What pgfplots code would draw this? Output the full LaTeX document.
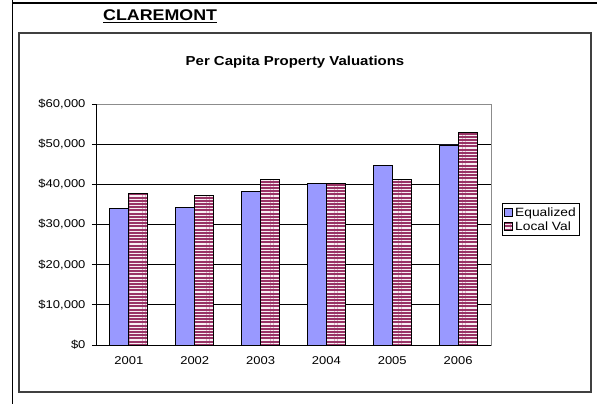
\documentclass[border=0pt]{standalone}
\usepackage{pgfplots}
\pgfplotsset{compat=1.18}
\usepackage{fontspec}
\setmainfont{Liberation Sans}[FakeStretch=1.15]
\usetikzlibrary{patterns.meta}
\definecolor{eqblue}{HTML}{9999FF}
\definecolor{maroon}{HTML}{993366}
\definecolor{stripe}{HTML}{F7EEF2}
\begin{document}
\begin{tikzpicture}
\path[use as bounding box] (0,0) rectangle (597pt,404pt);
% outer frame lines
\draw[black, line width=1.6pt] (12.5pt,404pt) -- (12.5pt,401pt) -- (597pt,401pt);
\draw[black, line width=1.6pt] (12.5pt,401pt) -- (12.5pt,0pt);
% inner chart box
\draw[black!75, line width=1.1pt] (19pt,12pt) rectangle (591pt,371pt);
% header
\node[anchor=base west, inner sep=0pt, font=\fontsize{15.5}{18}\selectfont\bfseries] at (103pt,383pt) {\underline{CLAREMONT}};
\node[anchor=base, inner sep=0pt, font=\fontsize{13}{16}\selectfont\bfseries] at (295pt,338.5pt) {Per Capita Property Valuations};
\begin{axis}[
  at={(96pt,59pt)}, anchor=south west,
  scale only axis, width=395pt, height=241pt,
  ybar=0pt, bar width=19pt,
  xmin=-0.5, xmax=5.5, ymin=0, ymax=60000,
  scaled y ticks=false,
  xtick={0,1,2,3,4,5},
  xticklabels={2001,2002,2003,2004,2005,2006},
  x tick style={draw=none},
  extra x ticks={-0.5,0.5,1.5,2.5,3.5,4.5,5.5},
  extra x tick labels={},
  extra x tick style={tick style={draw=black, line width=0.8pt}, major tick length=5pt, tick align=outside, tickpos=left, grid=none},
  ytick={0,10000,20000,30000,40000,50000,60000},
  yticklabels={{\$0},{\$10,000},{\$20,000},{\$30,000},{\$40,000},{\$50,000},{\$60,000}},
  y tick style={draw=black, line width=0.8pt},
  major tick length=4pt, tick align=outside, ytick pos=left,
  ymajorgrids, major grid style={black, line width=0.8pt},
  axis line style={draw=black!45, line width=0.8pt},
  tick label style={font=\fontsize{11.3}{13}\selectfont},
  /pgf/number format/assume math mode=true,
  yticklabel style={xshift=-3pt},
  xticklabel style={yshift=-4pt},
  legend style={at={(1.0278,0.589)}, anchor=north west, draw=black, line width=0.8pt,
    font=\fontsize{12}{14}\selectfont, inner xsep=2pt, inner ysep=2pt, row sep=0pt,
    /tikz/every even column/.append style={column sep=0pt}},
  legend cell align=left,
  legend image code/.code={\draw[#1, line width=0.8pt] (0pt,-4pt) rectangle (8pt,4pt);},
  clip=false,
]
\addplot[draw=black, line width=0.9pt, fill=eqblue] coordinates {(0,33900) (1,34200) (2,38300) (3,40100) (4,44800) (5,49800)};
\addplot[draw=black, line width=0.9pt, fill=maroon, postaction={pattern={Lines[distance=3.2pt, line width=1.2pt, angle=0]}, pattern color=stripe}] coordinates {(0,37700) (1,37200) (2,41200) (3,40200) (4,41300) (5,52900)};
\legend{Equalized, Local Val}
\draw[black, line width=0.9pt] (rel axis cs:0,1) -- (rel axis cs:0,0) -- (rel axis cs:1,0);
\end{axis}
\end{tikzpicture}
\end{document}
